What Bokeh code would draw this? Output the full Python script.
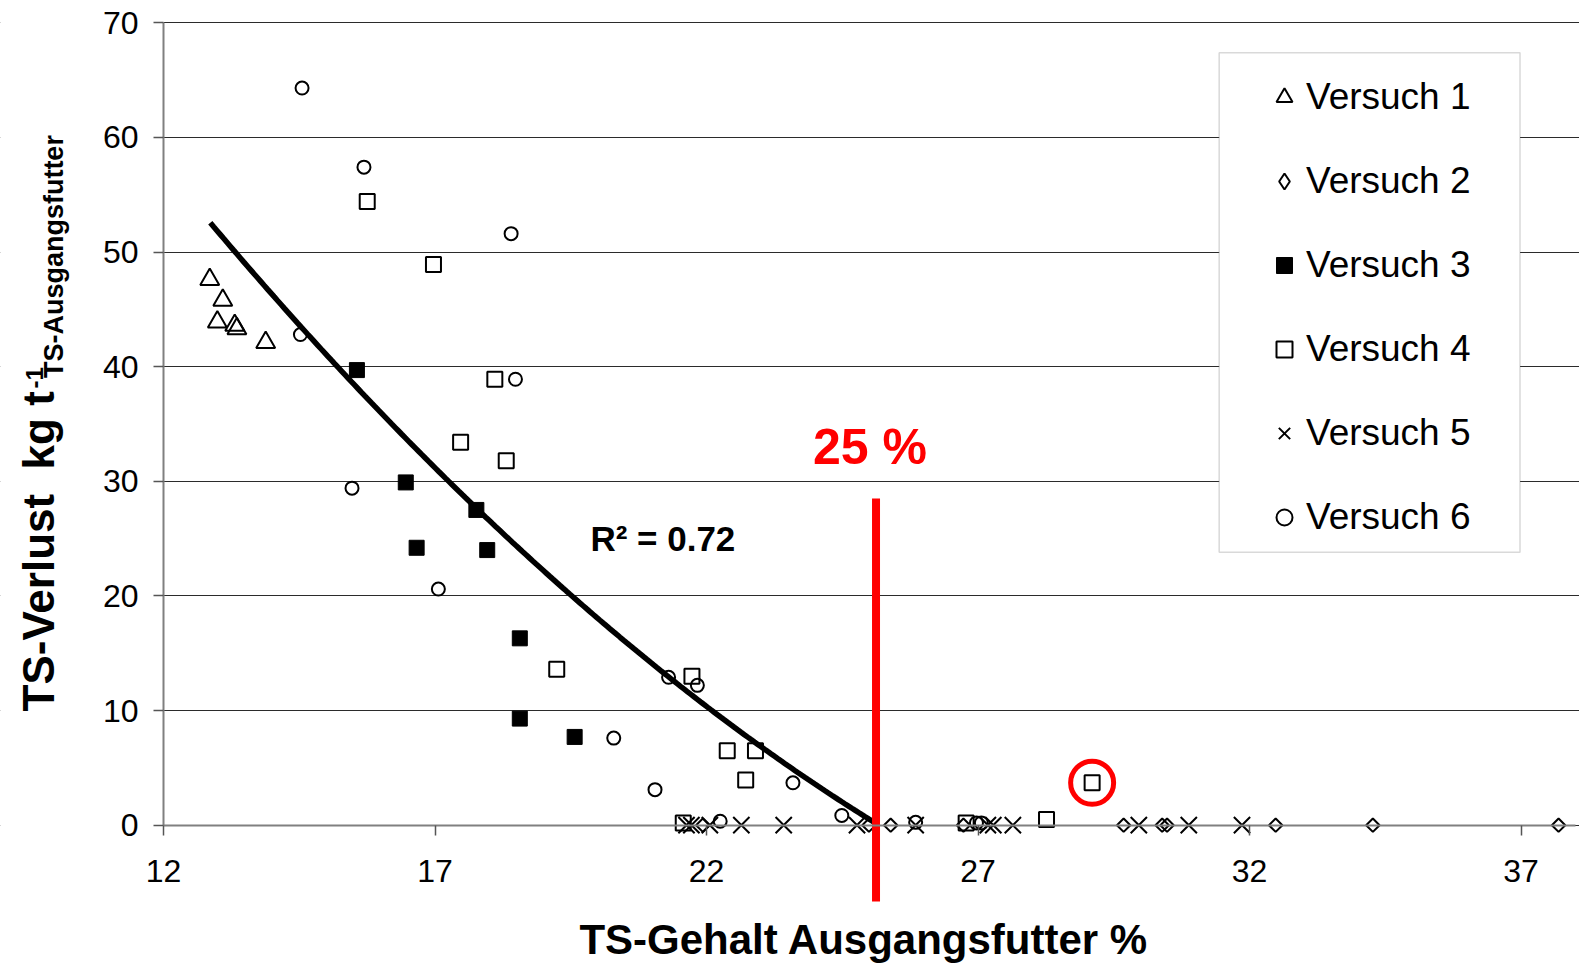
import numpy as np
from bokeh.plotting import figure
from bokeh.models import (Range1d, FixedTicker, Legend, LegendItem, Label,
                          BoxAnnotation)
from bokeh.embed import file_html
from bokeh.resources import INLINE

# ---------------- data ----------------
v1_x = [12.85, 13.09, 12.99, 13.31, 13.35, 13.88]
v1_y = [47.6, 45.8, 43.9, 43.6, 43.3, 42.1]

v2_x = [21.93, 24.99, 25.39, 26.73, 29.68, 30.39, 30.48, 32.48, 34.27, 37.69]
v2_y = [0, 0, 0, 0, 0, 0, 0, 0, 0, 0]

v3_x = [15.56, 16.46, 16.66, 17.76, 17.96, 18.56, 18.56, 19.57]
v3_y = [39.7, 29.9, 24.2, 27.5, 24.0, 16.3, 9.3, 7.7]

v4_x = [15.75, 16.97, 18.10, 17.47, 18.31, 19.24, 21.73, 22.38, 22.90, 22.72,
        21.57, 26.78, 28.26, 29.10]
v4_y = [54.4, 48.9, 38.9, 33.4, 31.8, 13.6, 13.0, 6.5, 6.5, 3.95,
        0.2, 0.2, 0.5, 3.7]

v5_x = [21.63, 21.72, 22.06, 22.64, 23.42, 24.77, 25.85, 27.18, 27.28, 27.64,
        29.96, 30.88, 31.86]
v5_y = [0, 0, 0, 0, 0, 0, 0, 0, 0, 0, 0, 0, 0]

v6_x = [14.55, 15.69, 18.40, 14.52, 18.48, 15.47, 17.06, 21.30, 21.83, 20.29,
        21.05, 23.59, 24.49, 22.25, 25.85, 26.97, 27.06]
v6_y = [64.3, 57.4, 51.6, 42.8, 38.9, 29.4, 20.6, 12.9, 12.2, 7.6,
        3.1, 3.7, 0.85, 0.35, 0.25, 0.2, 0.2]

series_labels = ["Versuch 1", "Versuch 2", "Versuch 3", "Versuch 4", "Versuch 5", "Versuch 6"]

# polynomial trend line (2nd order), R^2 = 0.72
trend_coef = [0.10976, -8.443, 142.98]
trend_x_range = [12.86, 25.17]
r2_text = "R² = 0.72"

threshold_x = 25.12
threshold_y = [28.5, -6.65]
threshold_text = "25 %"
highlight_index = 13  # Versuch 4 outlier marked with a red circle

x_ticks = [12, 17, 22, 27, 32, 37]
y_ticks = [0, 10, 20, 30, 40, 50, 60, 70]
x_axis_bounds = (12, 38)
y_axis_bounds = (0, 70)

x_label = "TS-Gehalt Ausgangsfutter %"
y_label_main = "TS-Verlust\u00a0 kg t"
y_label_sup = "-1"
y_label_sub = "TS-Ausgangsfutter"

FONT = "Liberation Sans"

# ---------------- layout geometry (pixels of the 1579x963 canvas) ----------------
W, H = 1579, 963
px_x12, px_per_x = 163.1, 54.3      # pixel position of x=12, pixels per x unit
px_y0, px_per_y = 824.7, 11.464     # pixel position of y=0 (from top), pixels per y unit
x_rng = (12 - px_x12 / px_per_x, 12 + (W - px_x12) / px_per_x)
y_rng = (-(H - px_y0) / px_per_y, px_y0 / px_per_y)

p = figure(width=W, height=H, output_backend="svg", toolbar_location=None, title=None,
           x_range=Range1d(*x_rng), y_range=Range1d(*y_rng),
           min_border_left=0, min_border_right=0, min_border_top=0, min_border_bottom=0)
p.outline_line_color = None
p.background_fill_color = "white"
p.border_fill_color = "white"

p.xgrid.visible = False
p.ygrid.ticker = FixedTicker(ticks=y_ticks)
p.ygrid.grid_line_color = "#2b2b2b"
p.ygrid.grid_line_width = 1
# keep the horizontal grid lines out of the tick-label area left of the y axis
p.add_layout(BoxAnnotation(right=x_axis_bounds[0], fill_color="white", fill_alpha=1.0,
                           line_color=None, level="underlay"))

for ax in (p.xaxis, p.yaxis):
    ax.axis_line_color = "#808080"
    ax.axis_line_width = 2
    ax.major_tick_line_color = "#555555"
    ax.major_tick_line_width = 1.5
    ax.major_tick_in = 0
    ax.major_tick_out = 10
    ax.minor_tick_line_color = None
    ax.major_label_text_font = FONT
    ax.major_label_text_font_size = "32px"
    ax.major_label_text_color = "black"

p.xaxis.ticker = FixedTicker(ticks=x_ticks)
p.xaxis.fixed_location = 0
p.xaxis.bounds = x_axis_bounds
p.xaxis.major_label_standoff = 25
p.yaxis.ticker = FixedTicker(ticks=y_ticks)
p.yaxis.fixed_location = 12
p.yaxis.bounds = y_axis_bounds
p.yaxis.major_label_standoff = 15

# ---------------- series ----------------
r1 = p.scatter(v1_x, v1_y, marker="triangle", size=19, fill_color=None,
               line_color="black", line_width=2)
r2 = p.scatter(v2_x, v2_y, marker="square", angle=np.pi / 4, size=9.5, fill_color=None,
               line_color="black", line_width=2)
r2_leg = p.scatter(np.array([np.nan]), np.array([np.nan]), marker="diamond", size=15,
                   fill_color=None, line_color="black", line_width=2)
r3 = p.scatter(v3_x, v3_y, marker="square", size=15, fill_color="black",
               line_color="black", line_width=1)
r4 = p.scatter(v4_x, v4_y, marker="square", size=15, fill_color=None,
               line_color="black", line_width=2)
r5 = p.scatter(v5_x, v5_y, marker="x", size=23, line_color="black", line_width=2)
r6 = p.scatter(v6_x, v6_y, marker="circle", size=13, fill_color=None,
               line_color="black", line_width=2)

# highlight circle
p.scatter([v4_x[highlight_index]], [v4_y[highlight_index]], marker="circle", size=43,
          fill_color=None, line_color="#FF0000", line_width=5)

# trend line
tx = np.linspace(trend_x_range[0], trend_x_range[1], 200)
ty = np.polyval(trend_coef, tx)
p.line(tx, ty, line_color="black", line_width=5.5)

# threshold line (extends below the axis)
p.segment(x0=[threshold_x], y0=[threshold_y[0]], x1=[threshold_x], y1=[threshold_y[1]],
          line_color="#FF0000", line_width=8, line_cap="butt")

p.add_layout(Label(x=25.01, y=32.98, text=threshold_text, text_font=FONT,
                   text_font_size="50px", text_font_style="bold", text_color="#FF0000",
                   text_align="center", text_baseline="middle"))
p.add_layout(Label(x=19.86, y=25.03, text=r2_text, text_font=FONT,
                   text_font_size="35px", text_font_style="bold", text_color="black",
                   text_align="left", text_baseline="middle"))

# axis titles
p.add_layout(Label(x=24.90, y=-10.0, text=x_label, text_font=FONT,
                   text_font_size="42px", text_font_style="bold", text_color="black",
                   text_align="center", text_baseline="middle"))
p.add_layout(Label(x=9.70, y=9.92, text=y_label_main, angle=np.pi / 2, text_font=FONT,
                   text_font_size="44px", text_font_style="bold", text_color="black",
                   text_align="left", text_baseline="middle"))
p.add_layout(Label(x=9.62, y=38.1, text=y_label_sup, angle=np.pi / 2, text_font=FONT,
                   text_font_size="24px", text_font_style="bold", text_color="black",
                   text_align="left", text_baseline="middle"))
p.add_layout(Label(x=9.98, y=39.0, text=y_label_sub, angle=np.pi / 2, text_font=FONT,
                   text_font_size="27px", text_font_style="bold", text_color="black",
                   text_align="left", text_baseline="middle"))

# legend frame + legend
p.add_layout(BoxAnnotation(left=31.44, right=36.98, bottom=23.80, top=67.37,
                           fill_color="white", fill_alpha=1.0,
                           line_color="#808080", line_width=1.5))
legend = Legend(items=[LegendItem(label=lab, renderers=[r])
                       for lab, r in zip(series_labels, [r1, r2_leg, r3, r4, r5, r6])],
                location=(1262, 425), padding=21, spacing=42, glyph_width=44,
                glyph_height=40, label_height=40, label_standoff=0,
                label_text_font=FONT, label_text_font_size="37px",
                label_text_color="black",
                border_line_color=None, background_fill_alpha=0)
p.add_layout(legend)

open("out.html", "w").write(file_html(p, INLINE))
